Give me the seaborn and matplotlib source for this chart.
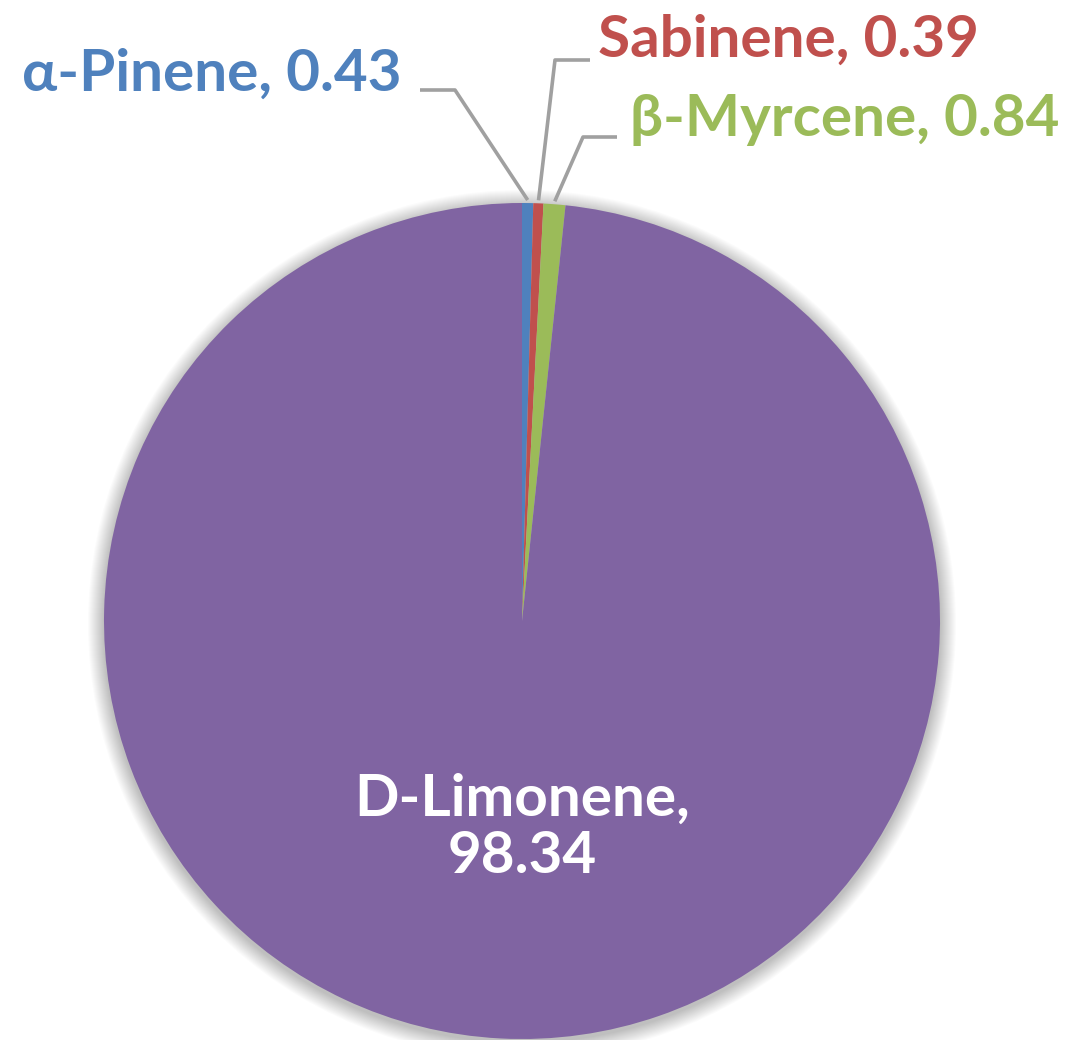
import numpy as np
import matplotlib.pyplot as plt
import seaborn as sns
from matplotlib.patches import Circle

compounds = ['α-Pinene', 'Sabinene', 'β-Myrcene', 'D-Limonene']
percent = [0.43, 0.39, 0.84, 98.34]
colors = ['#4F81BD', '#C0504D', '#9BBB59', '#8064A2']

sns.set_style("white")
plt.rcParams['font.family'] = ['Lato', 'DejaVu Sans']

fig = plt.figure(figsize=(10.8, 10.4), dpi=100)
ax = fig.add_axes([0, 0, 1, 1])

cx, cy, R = 522, 419, 418

# soft shadow round the pie
for i in range(16):
    ax.add_patch(Circle((cx, cy - 3), R + 16 - i, color='black', alpha=0.014, lw=0, zorder=0))

wedges, _ = ax.pie(percent, colors=colors, startangle=90, counterclock=False,
                   center=(cx, cy), radius=R, frame=True,
                   wedgeprops=dict(linewidth=0, zorder=2))
ax.set_xlim(0, 1080)
ax.set_ylim(0, 1040)
ax.set_aspect('equal')
ax.axis('off')

# label layout for the three small slices: (elbow, end of line, text pos, ha)
layout = [
    ((455, 950), (420, 950), (402, 966), 'right'),
    ((555, 980), (590, 980), (598, 1000), 'left'),
    ((583, 903), (617, 903), (630, 920), 'left'),
]
for w, name, val, col, (elbow, end, tpos, ha) in zip(wedges, compounds, percent, colors, layout):
    mid = np.deg2rad((w.theta1 + w.theta2) / 2)
    x0 = cx + (R + 3) * np.cos(mid)
    y0 = cy + (R + 3) * np.sin(mid)
    ax.plot([x0, elbow[0], end[0]], [y0, elbow[1], end[1]], color='#A0A0A0', lw=2.6,
            solid_capstyle='butt', zorder=3)
    ax.text(tpos[0], tpos[1], f'{name}, {val:.2f}', ha=ha, va='center', color=col,
            fontsize=42, fontweight='bold')

ax.text(cx, 1040 - 828, f'{compounds[3]},\n{percent[3]:.2f}', ha='center', va='center',
        color='white', fontsize=42, fontweight='bold', linespacing=1.1, zorder=4)

plt.savefig('out.png', dpi=100)
